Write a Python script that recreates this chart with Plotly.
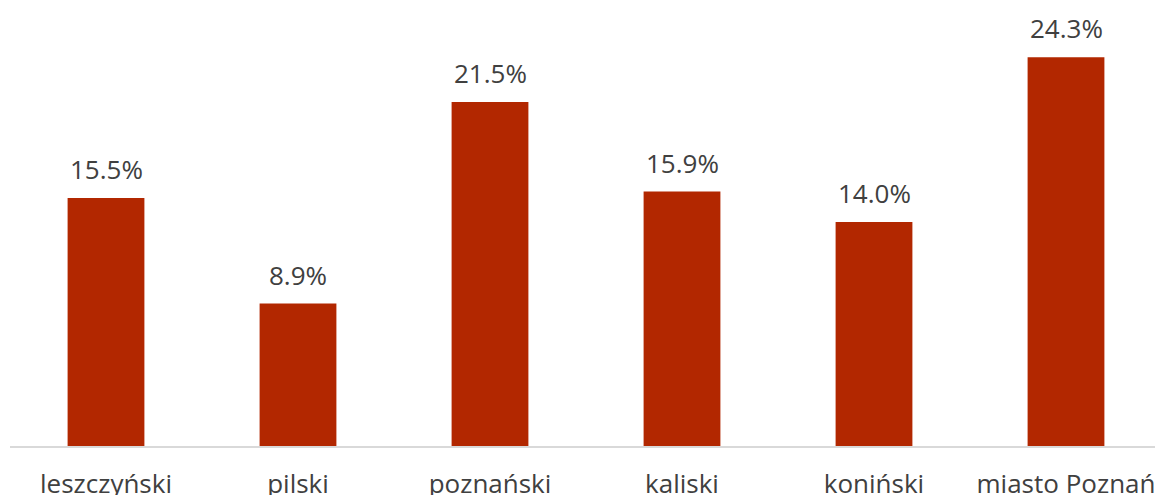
import plotly.graph_objects as go

categories = ["leszczyński", "pilski", "poznański", "kaliski", "koniński", "miasto Poznań"]
values = [15.5, 8.9, 21.5, 15.9, 14.0, 24.3]
labels = ["15.5%", "8.9%", "21.5%", "15.9%", "14.0%", "24.3%"]

BAR = "#B22700"
TXT = "#404040"
FONT = "Open Sans"

fig = go.Figure(go.Bar(x=categories, y=values, marker=dict(color=BAR, line=dict(width=0)), hoverinfo="skip"))

for c, v, t in zip(categories, values, labels):
    fig.add_annotation(x=c, y=v, text=t, showarrow=False, yanchor="bottom", yshift=9,
                       font=dict(family=FONT, size=26, color=TXT))

fig.update_layout(
    width=1163, height=495,
    margin=dict(l=2, r=9, t=0, b=57, autoexpand=False),
    plot_bgcolor="white", paper_bgcolor="white",
    bargap=0.6, showlegend=False,
    xaxis=dict(showline=True, linecolor="#D9D9D9", linewidth=1.5, ticks="", automargin=False,
               tickfont=dict(family=FONT, size=26, color=TXT), ticklabelstandoff=14),
    yaxis=dict(range=[0, 27.375], visible=False, showgrid=False, zeroline=False),
)
fig.write_html("out.html")
